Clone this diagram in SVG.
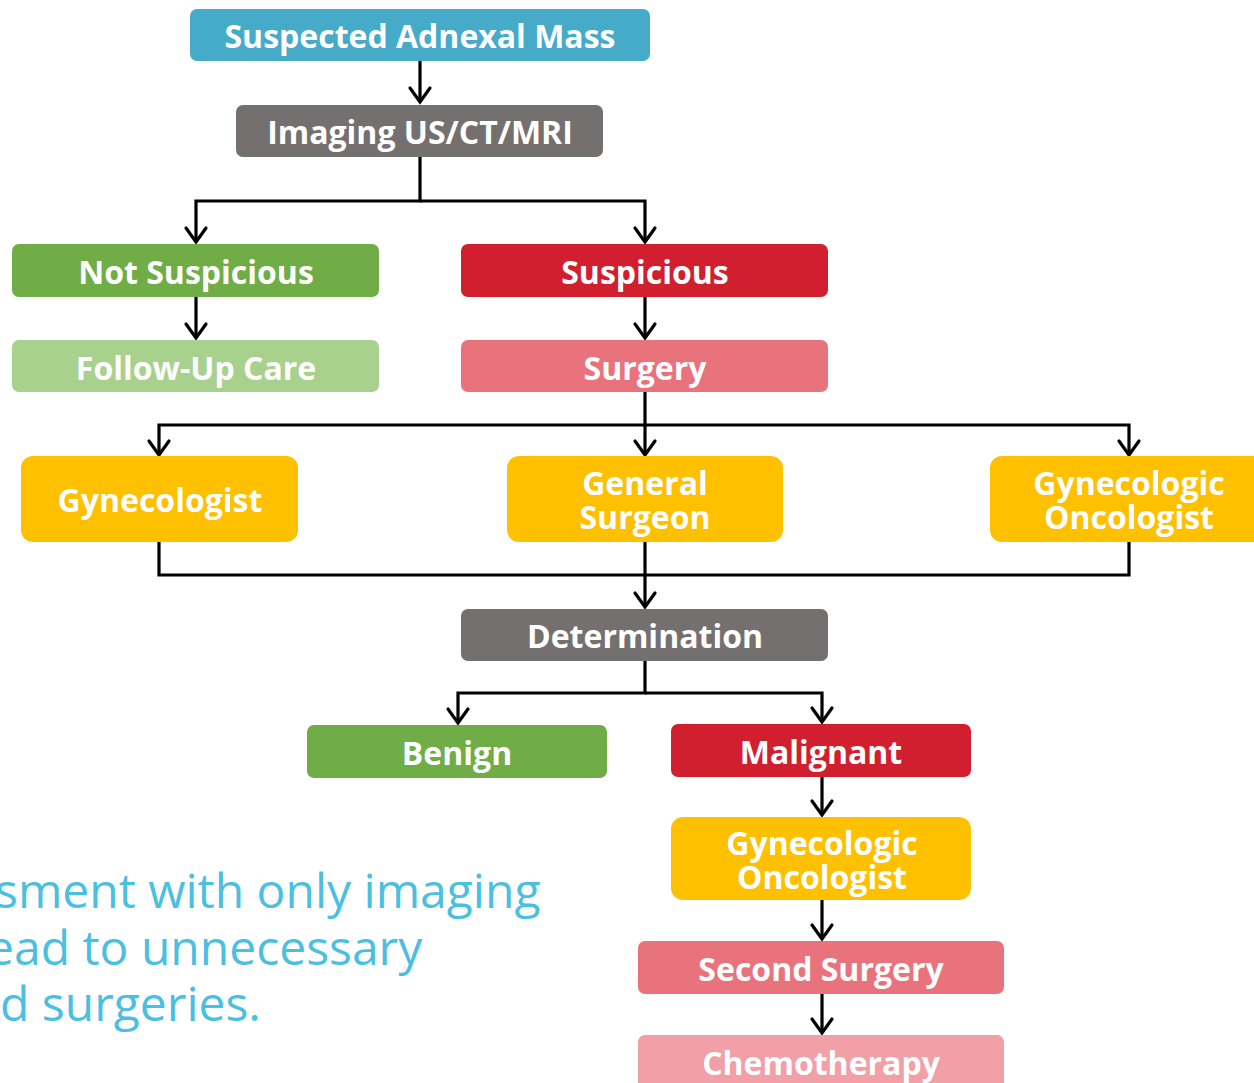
<svg xmlns="http://www.w3.org/2000/svg" width="1254" height="1083" viewBox="0 0 1254 1083">
<defs>
<style>
.t{font-family:"Open Sans","Noto Sans",sans-serif;font-weight:700;font-size:32px;fill:#fff;text-anchor:middle}
.c{fill:none;stroke:#000;stroke-width:3.2}
.note{font-family:"Open Sans","Noto Sans",sans-serif;font-size:48px;fill:#4bbfe0}
</style>
</defs>
<rect width="1254" height="1083" fill="#fff"/>
<g id="connectors">
<path class="c" d="M420,61 V102"/>
<path class="c" d="M420,157 V201 H196 V242"/>
<path class="c" d="M420,201 H645 V242"/>
<path class="c" d="M196,297 V338"/>
<path class="c" d="M645,297 V338"/>
<path class="c" d="M645,392 V425 H159 V455"/>
<path class="c" d="M645,425 H1129 V455"/>
<path class="c" d="M645,425 V455"/>
<path class="c" d="M159,542 V575 H1129 V542"/>
<path class="c" d="M645,542 V607"/>
<path class="c" d="M645,661 V693 H458 V723"/>
<path class="c" d="M645,693 H822 V722"/>
<path class="c" d="M822,777 V815"/>
<path class="c" d="M822,900 V939"/>
<path class="c" d="M822,994 V1033"/>
<g fill="none" stroke="#000" stroke-width="3.2" stroke-linecap="round">
<path d="M410,88 L420,102 L430,88"/>
<path d="M186,228 L196,242 L206,228"/>
<path d="M635,228 L645,242 L655,228"/>
<path d="M186,324 L196,338 L206,324"/>
<path d="M635,324 L645,338 L655,324"/>
<path d="M149,441 L159,455 L169,441"/>
<path d="M635,441 L645,455 L655,441"/>
<path d="M1119,441 L1129,455 L1139,441"/>
<path d="M635,593 L645,607 L655,593"/>
<path d="M448,709 L458,723 L468,709"/>
<path d="M812,708 L822,722 L832,708"/>
<path d="M812,801 L822,815 L832,801"/>
<path d="M812,925 L822,939 L832,925"/>
<path d="M812,1019 L822,1033 L832,1019"/>
</g>
</g>
<g id="n1"><rect x="190" y="9" width="460" height="52" rx="7" fill="#46abc9"/><text class="t" x="420" y="48">Suspected Adnexal Mass</text></g>
<g id="n2"><rect x="236" y="105" width="367" height="52" rx="7" fill="#757070"/><text class="t" x="420" y="144">Imaging US/CT/MRI</text></g>
<g id="n3"><rect x="12" y="244" width="367" height="53" rx="7" fill="#70ad47"/><text class="t" x="196" y="284">Not Suspicious</text></g>
<g id="n4"><rect x="461" y="244" width="367" height="53" rx="7" fill="#d11f30"/><text class="t" x="645" y="284">Suspicious</text></g>
<g id="n5"><rect x="12" y="340" width="367" height="52" rx="7" fill="#a9d18e"/><text class="t" x="196" y="380">Follow-Up Care</text></g>
<g id="n6"><rect x="461" y="340" width="367" height="52" rx="7" fill="#e9737c"/><text class="t" x="645" y="380">Surgery</text></g>
<g id="n7"><rect x="21" y="456" width="277" height="86" rx="12" fill="#ffc000"/><text class="t" x="160" y="512">Gynecologist</text></g>
<g id="n8"><rect x="507" y="456" width="276" height="86" rx="12" fill="#ffc000"/><text class="t"><tspan x="645" y="495">General</tspan><tspan x="645" y="529">Surgeon</tspan></text></g>
<g id="n9"><rect x="990" y="456" width="290" height="86" rx="12" fill="#ffc000"/><text class="t"><tspan x="1129" y="495">Gynecologic</tspan><tspan x="1129" y="529">Oncologist</tspan></text></g>
<g id="n10"><rect x="461" y="609" width="367" height="52" rx="7" fill="#757070"/><text class="t" x="645" y="648">Determination</text></g>
<g id="n11"><rect x="307" y="725" width="300" height="53" rx="7" fill="#70ad47"/><text class="t" x="457" y="765">Benign</text></g>
<g id="n12"><rect x="671" y="724" width="300" height="53" rx="7" fill="#d11f30"/><text class="t" x="821" y="764">Malignant</text></g>
<g id="n13"><rect x="671" y="817" width="300" height="83" rx="12" fill="#ffc000"/><text class="t"><tspan x="822" y="855">Gynecologic</tspan><tspan x="822" y="889">Oncologist</tspan></text></g>
<g id="n14"><rect x="638" y="941" width="366" height="53" rx="7" fill="#e9737c"/><text class="t" x="821" y="981">Second Surgery</text></g>
<g id="n15"><rect x="638" y="1035" width="366" height="60" rx="7" fill="#f0a0a6"/><text class="t" x="821" y="1075">Chemotherapy</text></g>
<g id="note">
<text class="note" x="-5" y="908">sment with only imaging</text>
<text class="note" x="-13" y="965">ead to unnecessary</text>
<text class="note" x="0" y="1021">d surgeries.</text>
</g>
</svg>
